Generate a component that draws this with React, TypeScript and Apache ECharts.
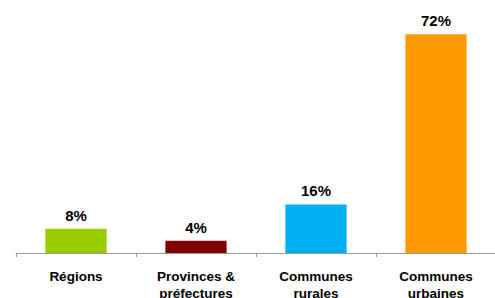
import React, { useEffect, useRef } from "react";
import * as echarts from "echarts";

const categories = ["Régions", "Provinces &\npréfectures", "Communes\nrurales", "Communes\nurbaines"];
const values = [8, 4, 16, 72];
const colors = ["#99CC00", "#800000", "#00B0F0", "#FF9900"];

export default function App() {
  const ref = useRef<HTMLDivElement>(null);
  useEffect(() => {
    const chart = echarts.init(ref.current!, null, { renderer: "svg" });
    chart.setOption({
      animation: false,
      grid: { left: 16, right: -1, top: 10, bottom: 45, outerBoundsMode: "none", containLabel: false },
      xAxis: {
        type: "category",
        data: categories,
        axisLine: { lineStyle: { color: "#999999", width: 1 } },
        axisTick: { show: true, length: 4, lineStyle: { color: "#999999" } },
        axisLabel: {
          interval: 0,
          margin: 15,
          color: "#000",
          fontFamily: "Liberation Sans, Arial, sans-serif",
          fontWeight: "bold",
          fontSize: 13.5,
          lineHeight: 17,
        },
      },
      yAxis: { type: "value", min: 0, max: 80, show: false, splitLine: { show: false } },
      series: [
        {
          type: "bar",
          barWidth: "51%",
          data: values.map((v, i) => ({ value: v, itemStyle: { color: colors[i] } })),
          label: {
            show: true,
            position: "top",
            distance: 6,
            formatter: "{c}%",
            color: "#000",
            fontFamily: "Liberation Sans, Arial, sans-serif",
            fontWeight: "bold",
            fontSize: 15,
          },
        },
      ],
    });
    return () => chart.dispose();
  }, []);
  return <div ref={ref} style={{ width: 495, height: 298, position: "absolute", left: 0, top: 0 }} />;
}
